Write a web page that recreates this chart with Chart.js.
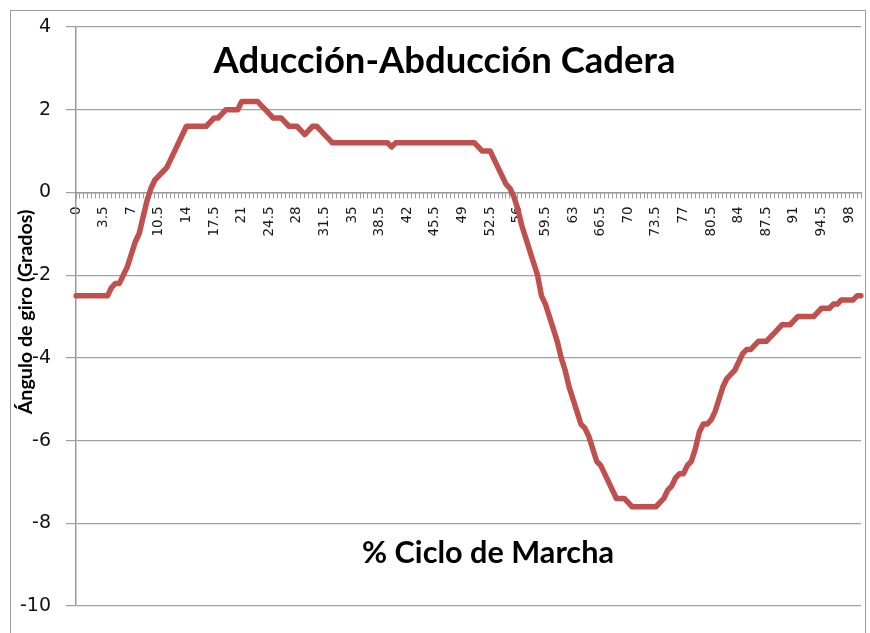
<!DOCTYPE html>
<html>
<head>
<meta charset="utf-8">
<script src="https://cdn.jsdelivr.net/npm/chart.js@4/dist/chart.umd.min.js"></script>
<style>
  html, body { margin: 0; padding: 0; background: #fff; }
  #wrap { width: 870px; height: 633px; }
</style>
</head>
<body>
<div id="wrap"><canvas id="c" width="870" height="633"></canvas></div>
<script>
const chartTitle = 'Aducción-Abducción Cadera';
const xTitle = '% Ciclo de Marcha';
const yTitle = 'Ángulo de giro (Grados)';

// Categories: % of gait cycle, 0 .. 99.5 in 0.5 steps
const categories = Array.from({length: 200}, (_, i) => i * 0.5);

// Labels shown on the x axis (every 3.5 %)
const xTickLabels = ['0','3.5','7','10.5','14','17.5','21','24.5','28','31.5','35','38.5','42','45.5','49','52.5','56','59.5','63','66.5','70','73.5','77','80.5','84','87.5','91','94.5','98'];

// Hip adduction-abduction angle (degrees)
const angle = [
  -2.5, -2.5, -2.5, -2.5, -2.5, -2.5, -2.5, -2.5, -2.5, -2.3,   // 0 - 4.5
  -2.2, -2.2, -2.0, -1.8, -1.5, -1.2, -1.0, -0.6, -0.2,  0.1,   // 5 - 9.5
   0.3,  0.4,  0.5,  0.6,  0.8,  1.0,  1.2,  1.4,  1.6,  1.6,   // 10 - 14.5
   1.6,  1.6,  1.6,  1.6,  1.7,  1.8,  1.8,  1.9,  2.0,  2.0,   // 15 - 19.5
   2.0,  2.0,  2.2,  2.2,  2.2,  2.2,  2.2,  2.1,  2.0,  1.9,   // 20 - 24.5
   1.8,  1.8,  1.8,  1.7,  1.6,  1.6,  1.6,  1.5,  1.4,  1.5,   // 25 - 29.5
   1.6,  1.6,  1.5,  1.4,  1.3,  1.2,  1.2,  1.2,  1.2,  1.2,   // 30 - 34.5
   1.2,  1.2,  1.2,  1.2,  1.2,  1.2,  1.2,  1.2,  1.2,  1.2,   // 35 - 39.5
   1.1,  1.2,  1.2,  1.2,  1.2,  1.2,  1.2,  1.2,  1.2,  1.2,   // 40 - 44.5
   1.2,  1.2,  1.2,  1.2,  1.2,  1.2,  1.2,  1.2,  1.2,  1.2,   // 45 - 49.5
   1.2,  1.2,  1.1,  1.0,  1.0,  1.0,  0.8,  0.6,  0.4,  0.2,   // 50 - 54.5
   0.1, -0.1, -0.4, -0.8, -1.1, -1.4, -1.7, -2.0, -2.5, -2.7,   // 55 - 59.5
  -3.0, -3.3, -3.6, -4.0, -4.3, -4.7, -5.0, -5.3, -5.6, -5.7,   // 60 - 64.5
  -5.9, -6.2, -6.5, -6.6, -6.8, -7.0, -7.2, -7.4, -7.4, -7.4,   // 65 - 69.5
  -7.5, -7.6, -7.6, -7.6, -7.6, -7.6, -7.6, -7.6, -7.5, -7.4,   // 70 - 74.5
  -7.2, -7.1, -6.9, -6.8, -6.8, -6.6, -6.5, -6.2, -5.8, -5.6,   // 75 - 79.5
  -5.6, -5.5, -5.3, -5.0, -4.7, -4.5, -4.4, -4.3, -4.1, -3.9,   // 80 - 84.5
  -3.8, -3.8, -3.7, -3.6, -3.6, -3.6, -3.5, -3.4, -3.3, -3.2,   // 85 - 89.5
  -3.2, -3.2, -3.1, -3.0, -3.0, -3.0, -3.0, -3.0, -2.9, -2.8,   // 90 - 94.5
  -2.8, -2.8, -2.7, -2.7, -2.6, -2.6, -2.6, -2.6, -2.5, -2.5    // 95 - 99.5
];

const yTicks = [4, 2, 0, -2, -4, -6, -8, -10];

const FONT = '"DejaVu Sans", "Liberation Sans", sans-serif';
const TFONT = 'Lato, "Open Sans", sans-serif';

function fitFont(ctx, text, weight, family, targetW) {
  let size = 20;
  ctx.font = weight + ' ' + size + 'px ' + family;
  const w = ctx.measureText(text).width;
  size = size * targetW / w;
  return weight + ' ' + size.toFixed(2) + 'px ' + family;
}

const decor = {
  id: 'decor',
  beforeDraw(chart) {
    const ctx = chart.ctx;
    ctx.save();
    ctx.fillStyle = '#ffffff';
    ctx.fillRect(0, 0, chart.width, chart.height);
    ctx.strokeStyle = '#9a9a9a';
    ctx.lineWidth = 1;
    ctx.strokeRect(10.5, 10.5, 855, 640);
    ctx.restore();
  },
  afterDraw(chart) {
    const ctx = chart.ctx;
    ctx.save();
    ctx.fillStyle = '#000';
    ctx.textAlign = 'center';
    ctx.textBaseline = 'middle';
    ctx.font = fitFont(ctx, chartTitle, 'bold', TFONT, 462);
    ctx.fillText(chartTitle, 444.5, 61);
    ctx.font = fitFont(ctx, xTitle, 'bold', TFONT, 252);
    ctx.fillText(xTitle, 488, 553);
    ctx.translate(26, 312);
    ctx.rotate(-Math.PI / 2);
    ctx.font = fitFont(ctx, yTitle, 'bold', TFONT, 205);
    ctx.fillStyle = '#ffffff';
    ctx.fillRect(-104, -7, 208, 14);
    ctx.fillStyle = '#000';
    ctx.fillText(yTitle, 0, 0);
    ctx.restore();
  }
};

new Chart(document.getElementById('c'), {
  type: 'line',
  data: {
    labels: categories,
    datasets: [{
      data: angle,
      borderColor: '#c0504d',
      borderWidth: 5.5,
      pointRadius: 0,
      pointHoverRadius: 0,
      tension: 0,
      fill: false,
      borderJoinStyle: 'round',
      borderCapStyle: 'round'
    }]
  },
  options: {
    responsive: false,
    devicePixelRatio: 1,
    animation: false,
    events: [],
    layout: { padding: { left: 10, right: 9, top: 27, bottom: 27 } },
    plugins: {
      legend: { display: false },
      title: { display: false },
      tooltip: { enabled: false }
    },
    scales: {
      x: {
        type: 'category',
        position: { y: 0 },
        offset: false,
        afterFit(scale) { scale.paddingLeft = 0; scale.paddingRight = 0; },
        grid: {
          display: true,
          drawOnChartArea: false,
          drawTicks: true,
          tickLength: 5,
          color: '#9a9a9a',
          lineWidth: 1
        },
        border: { display: true, color: '#9a9a9a', width: 1.5 },
        ticks: {
          autoSkip: false,
          maxRotation: 90,
          minRotation: 90,
          padding: 9,
          color: '#1a1a1a',
          font: { family: FONT, size: 13.5 },
          callback: (v, i) => (i % 7 === 0 ? xTickLabels[i / 7] : '')
        }
      },
      y: {
        min: -10,
        max: 4,
        afterFit(scale) { scale.width = 66; },
        afterBuildTicks(scale) { scale.ticks = yTicks.map(v => ({ value: v })); },
        grid: {
          color: '#a0a0a0',
          lineWidth: 1.2,
          tickLength: 10,
          drawTicks: true
        },
        border: { display: true, color: '#9a9a9a', width: 1.5 },
        ticks: {
          padding: 15,
          color: '#111',
          font: { family: FONT, size: 19 },
          callback: v => String(v)
        }
      }
    }
  },
  plugins: [decor]
});
</script>
</body>
</html>
